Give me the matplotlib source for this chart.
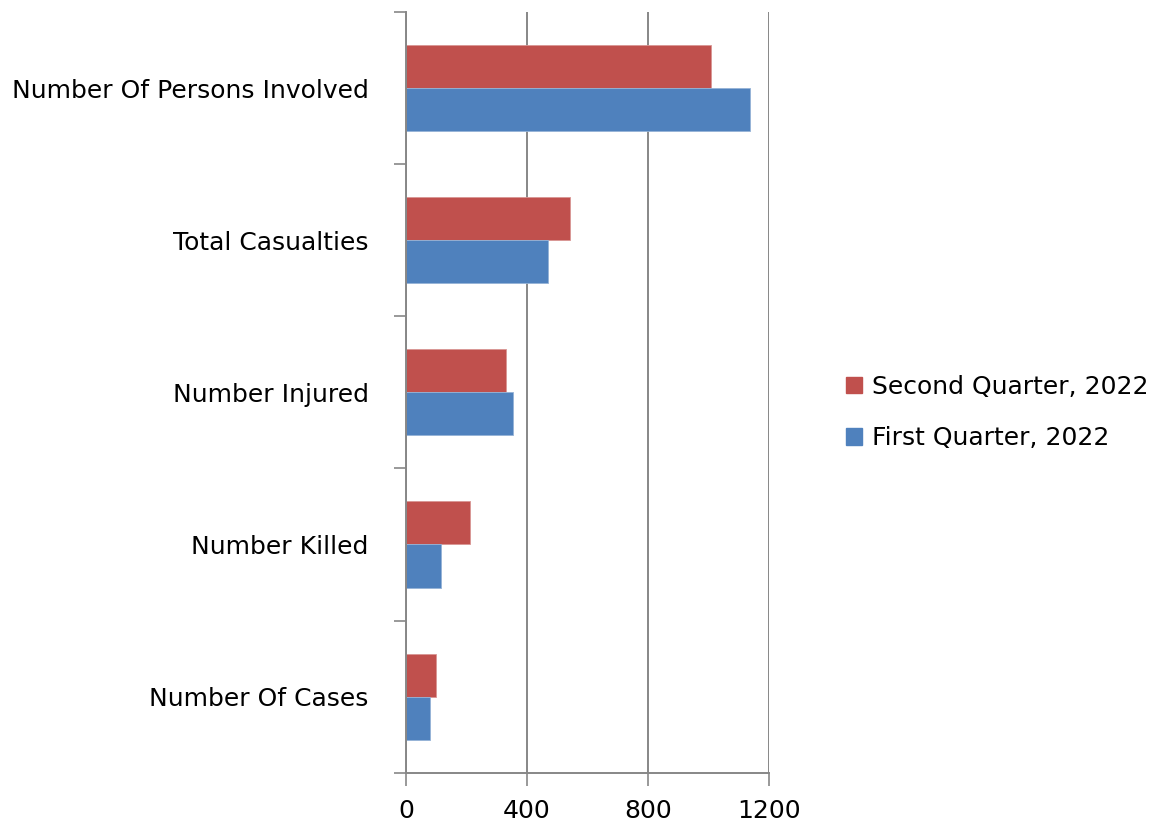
import matplotlib.pyplot as plt
import numpy as np
from matplotlib.patches import Patch

categories = [
    "Number Of Cases",
    "Number Killed",
    "Number Injured",
    "Total Casualties",
    "Number Of Persons Involved",
]
first_q = [81, 116, 354, 469, 1138]
second_q = [99, 210, 332, 543, 1007]
series_labels = ["Second Quarter, 2022", "First Quarter, 2022"]
xticks = [0, 400, 800, 1200]

red = "#C0504D"
blue = "#4F81BD"
gray = "#878787"

plt.rcParams["font.family"] = ["DejaVu Sans"]

fig = plt.figure(figsize=(11.65, 8.25), dpi=100)
ax = fig.add_axes([0.3485, 0.0634, 0.3115, 0.9221])

y = np.arange(len(categories))
h = 0.283
ax.barh(y + h / 2, second_q, height=h, color=red, edgecolor="#D99694", linewidth=0.6)
ax.barh(y - h / 2, first_q, height=h, color=blue, edgecolor="#95B3D7", linewidth=0.6)

ax.set_xlim(0, 1200)
ax.set_ylim(-0.5, len(categories) - 0.5)
ax.set_xticks(xticks)
ax.set_xticklabels([str(t) for t in xticks], fontsize=18)
ax.set_yticks(y)
ax.set_yticklabels(categories, fontsize=18)
ax.set_yticks(np.arange(-0.5, len(categories)), minor=True)
ax.tick_params(axis="y", which="major", length=0, pad=27)
ax.tick_params(axis="y", which="minor", length=9, width=1.2, color=gray, direction="out")
ax.tick_params(axis="x", which="major", length=9, width=1.2, color=gray, direction="out", pad=10)

ax.xaxis.grid(True, color=gray, linewidth=1.4)
ax.set_axisbelow(True)
for s in ["top", "right"]:
    ax.spines[s].set_visible(False)
for s in ["left", "bottom"]:
    ax.spines[s].set_color(gray)
    ax.spines[s].set_linewidth(1.4)

handles = [Patch(color=red), Patch(color=blue)]
fig.legend(
    handles,
    series_labels,
    loc="center left",
    bbox_to_anchor=(0.707, 0.5),
    frameon=False,
    fontsize=18,
    handlelength=0.65,
    handleheight=0.65,
    handletextpad=0.4,
    labelspacing=1.1,
)

fig.savefig("out.png", dpi=100)
